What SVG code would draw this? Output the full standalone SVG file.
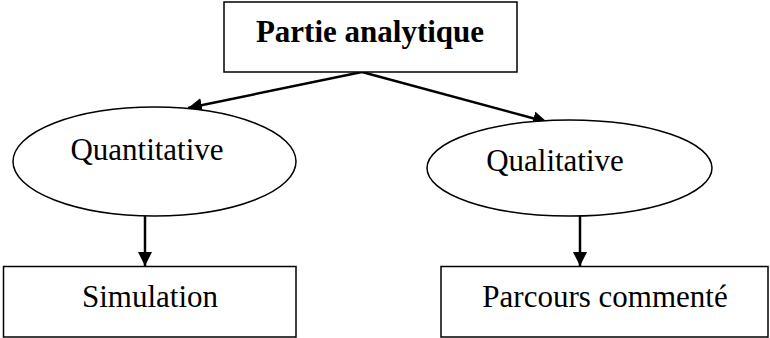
<svg xmlns="http://www.w3.org/2000/svg" width="770" height="338" viewBox="0 0 770 338">
<style>
.box{fill:#fff;stroke:#000;stroke-width:1.5}
.ell{fill:#fff;stroke:#000;stroke-width:1.5}
.t{font-family:"Liberation Serif","Times New Roman",serif;font-size:31px;fill:#000;text-anchor:middle}
.b{font-weight:bold}
.c{stroke:#000;stroke-width:2.5;fill:none;marker-end:url(#ah)}
</style>
<defs>
<marker id="ah" markerWidth="8" markerHeight="8" refX="7" refY="4" orient="auto" markerUnits="userSpaceOnUse" viewBox="0 0 8 8">
<path d="M0,0 L8,4 L0,8 Z" fill="#000"/>
</marker>
<marker id="ahb" markerWidth="14" markerHeight="14" refX="14" refY="7" orient="auto" markerUnits="userSpaceOnUse" viewBox="0 0 14 14">
<path d="M0,0 L14,7 L0,14 Z" fill="#000"/>
</marker>
</defs>
<g id="connectors">
<line x1="362" y1="72" x2="188" y2="108" stroke="#000" stroke-width="2.5" marker-end="url(#ahb)"/>
<line x1="362" y1="72" x2="547" y2="122" stroke="#000" stroke-width="2.5" marker-end="url(#ahb)"/>
<line x1="145" y1="216" x2="145" y2="266" stroke="#000" stroke-width="2.5" marker-end="url(#ahb)"/>
<line x1="580" y1="216" x2="580" y2="266" stroke="#000" stroke-width="2.5" marker-end="url(#ahb)"/>
</g>
<g id="partie">
<rect class="box" x="224" y="2" width="293" height="70"/>
<text class="t b" x="370" y="42">Partie analytique</text>
</g>
<g id="quantitative">
<ellipse class="ell" cx="154.5" cy="161.5" rx="141.5" ry="54.5"/>
<text class="t" x="147" y="160">Quantitative</text>
</g>
<g id="qualitative">
<ellipse class="ell" cx="569.5" cy="168" rx="142.5" ry="48"/>
<text class="t" x="555" y="171">Qualitative</text>
</g>
<g id="simulation">
<rect class="box" x="3.5" y="266.5" width="292.5" height="70.5"/>
<text class="t" x="150" y="307">Simulation</text>
</g>
<g id="parcours">
<rect class="box" x="441" y="266.5" width="327" height="70.5"/>
<text class="t" x="605" y="307">Parcours commenté</text>
</g>
</svg>
